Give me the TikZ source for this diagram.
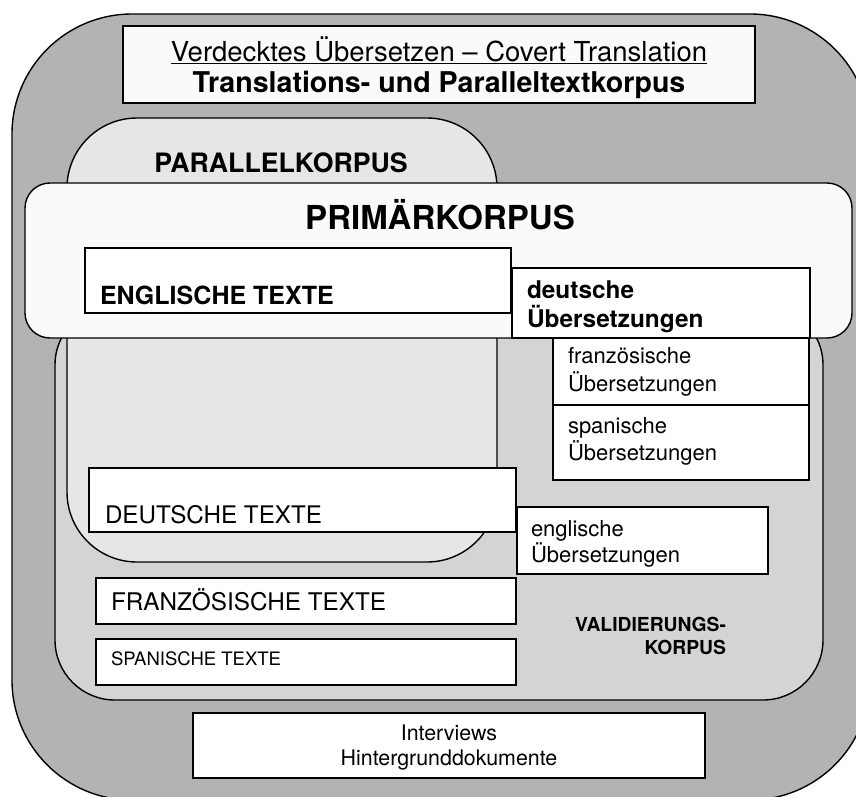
\documentclass[tikz,border=0pt]{standalone}
\usepackage{fontspec}
\setmainfont{TeX Gyre Heros}
\definecolor{outergray}{HTML}{B3B3B3}
\definecolor{validgray}{HTML}{D4D4D4}
\definecolor{parallelgray}{HTML}{E6E6E6}
\definecolor{primwhite}{HTML}{FAFAFA}
\begin{document}
\begin{tikzpicture}[x=1pt,y=-1pt,
  roundbox/.style={draw=black, line width=1.4pt, anchor=north west, inner sep=0pt, outer sep=0pt},
  plainbox/.style={draw=black, line width=1.9pt, fill=white, anchor=north west, inner sep=0pt, outer sep=0pt},
  txt/.style={inner sep=0pt, outer sep=0pt, anchor=base west, text=black},
  ctxt/.style={inner sep=0pt, outer sep=0pt, anchor=base, text=black},
  rtxt/.style={inner sep=0pt, outer sep=0pt, anchor=base east, text=black}]
\useasboundingbox (0,0) rectangle (856,796);
\clip (0,0) rectangle (856,796);
% outer
\node[roundbox, fill=outergray, rounded corners=120pt, minimum width=858pt, minimum height=786pt] (outer) at (12,14) {};
% title
\node[plainbox, fill=white!98!black, minimum width=632pt, minimum height=77pt] (title) at (123,26) {};
\node[ctxt, font=\fontsize{27.5}{33}\selectfont] (titleA) at (439,61) {\underline{Verdecktes Übersetzen – Covert Translation}};
\node[ctxt, font=\fontsize{28.6}{33}\selectfont\bfseries] (titleB) at (439,92) {Translations- und Paralleltextkorpus};
% validierungskorpus
\node[roundbox, fill=validgray, rounded corners=60pt, minimum width=768pt, minimum height=395pt] (valid) at (55,305) {};
% parallelkorpus
\node[roundbox, fill=parallelgray, rounded corners=70pt, minimum width=430pt, minimum height=444pt] (parallel) at (67,118) {};
\node[ctxt, font=\fontsize{26.7}{32}\selectfont\bfseries] (parallelT) at (281,172) {PARALLELKORPUS};
% primaerkorpus
\node[roundbox, fill=primwhite, rounded corners=25pt, minimum width=827pt, minimum height=155pt] (prim) at (25,183) {};
\node[ctxt, font=\fontsize{33}{38}\selectfont\bfseries] (primT) at (440,229) {PRIMÄRKORPUS};
% englische texte
\node[plainbox, minimum width=426pt, minimum height=65pt] (eng) at (85,248) {};
\node[txt, font=\fontsize{25}{30}\selectfont\bfseries] (engT) at (100,304) {ENGLISCHE TEXTE};
% deutsche Uebersetzungen
\node[plainbox, minimum width=298pt, minimum height=70pt] (deuU) at (512,268) {};
\node[txt, font=\fontsize{24.4}{29}\selectfont\bfseries] (deuUa) at (527,298) {deutsche};
\node[txt, font=\fontsize{24.4}{29}\selectfont\bfseries] (deuUb) at (527,327) {Übersetzungen};
% franzoesische Uebersetzungen
\node[plainbox, minimum width=256pt, minimum height=67pt] (fraU) at (553,338) {};
\node[txt, font=\fontsize{22}{28}\selectfont] (fraUa) at (568,363) {französische};
\node[txt, font=\fontsize{22}{28}\selectfont] (fraUb) at (568,391) {Übersetzungen};
% spanische Uebersetzungen
\node[plainbox, minimum width=256pt, minimum height=75pt] (spaU) at (553,405) {};
\node[txt, font=\fontsize{22}{28}\selectfont] (spaUa) at (568,433) {spanische};
\node[txt, font=\fontsize{22}{28}\selectfont] (spaUb) at (568,460) {Übersetzungen};
% deutsche texte
\node[plainbox, minimum width=427pt, minimum height=64pt] (deu) at (89,468) {};
\node[txt, font=\fontsize{24.2}{29}\selectfont] (deuT) at (105,523) {DEUTSCHE TEXTE};
% englische Uebersetzungen
\node[plainbox, minimum width=251pt, minimum height=67pt] (engU) at (517,507) {};
\node[txt, font=\fontsize{22}{28}\selectfont] (engUa) at (531,536) {englische};
\node[txt, font=\fontsize{22}{28}\selectfont] (engUb) at (531,562) {Übersetzungen};
% franzoesische texte
\node[plainbox, minimum width=420pt, minimum height=46pt] (fra) at (96,578) {};
\node[txt, font=\fontsize{24.3}{29}\selectfont] (fraT) at (111,610) {FRANZÖSISCHE TEXTE};
% spanische texte
\node[plainbox, minimum width=420pt, minimum height=46pt] (spa) at (96,639) {};
\node[txt, font=\fontsize{18.5}{22}\selectfont] (spaT) at (111,665) {SPANISCHE TEXTE};
% validierungskorpus label
\node[rtxt, font=\fontsize{19.3}{23}\selectfont\bfseries] (validA) at (726,631) {VALIDIERUNGS-};
\node[rtxt, font=\fontsize{19.3}{23}\selectfont\bfseries] (validB) at (726,654) {KORPUS};
% interviews
\node[plainbox, minimum width=512pt, minimum height=65pt] (inter) at (193,713) {};
\node[ctxt, font=\fontsize{21.4}{25}\selectfont] (interA) at (449,740) {Interviews};
\node[ctxt, font=\fontsize{21.4}{25}\selectfont] (interB) at (449,765) {Hintergrunddokumente};
\end{tikzpicture}
\end{document}
